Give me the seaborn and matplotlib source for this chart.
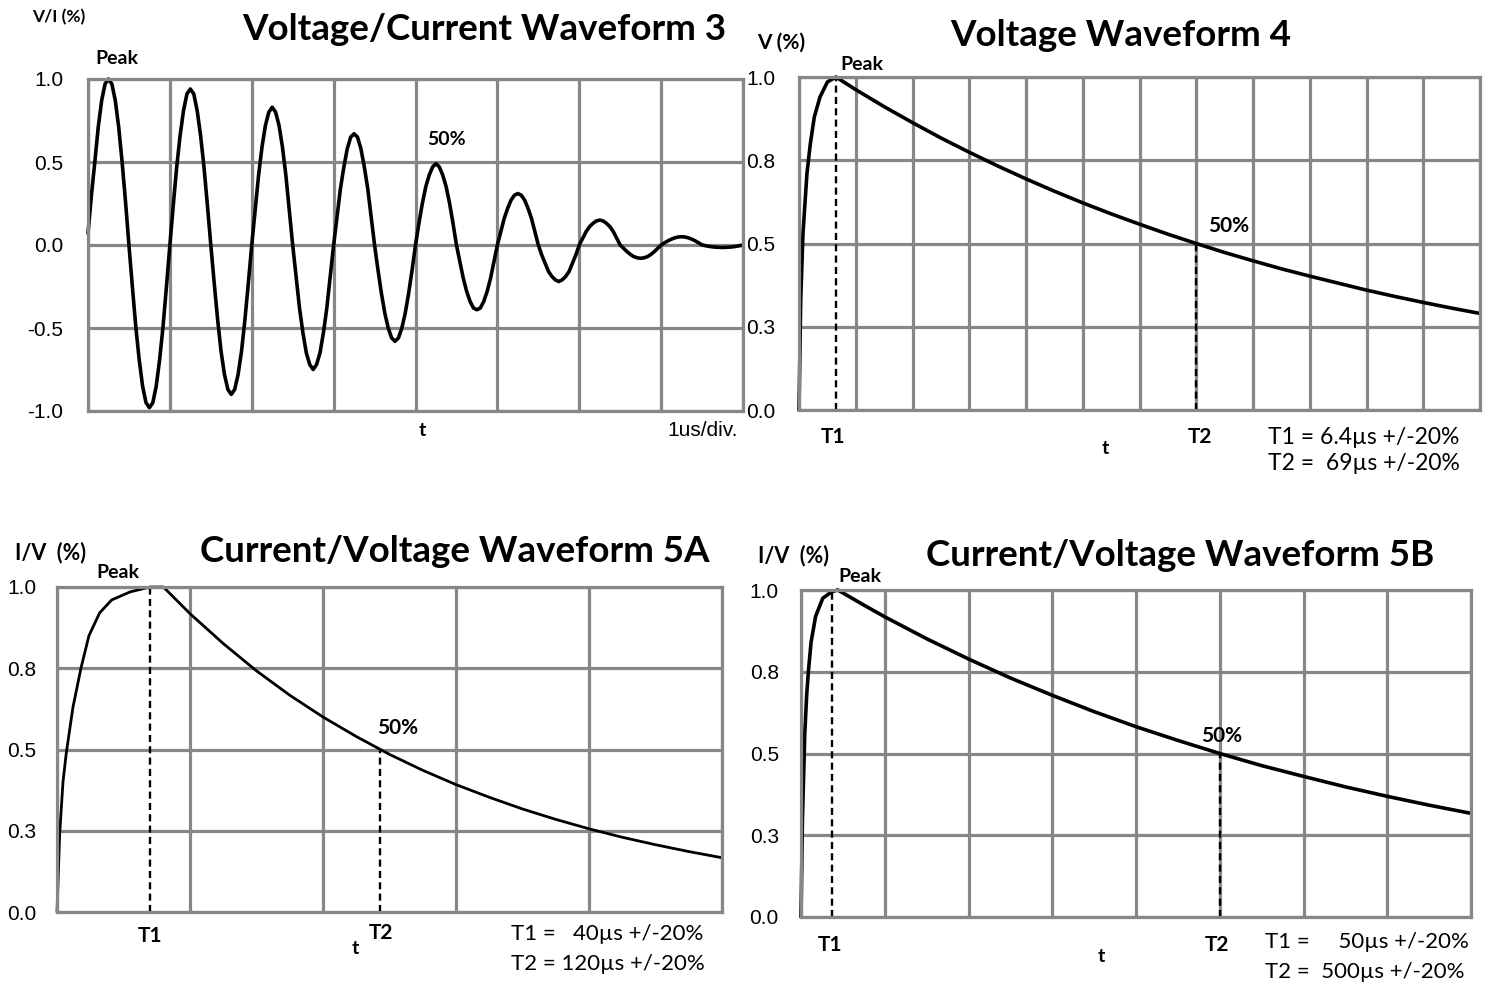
import numpy as np
import matplotlib.pyplot as plt
import seaborn as sns

W, H = 1488, 982
GRID = '#878787'

ring_per_div = 24
ring_v = [0.07, 0.30, 0.50, 0.71, 0.87, 0.97, 1.00, 0.97, 0.87, 0.71, 0.50, 0.26,
          0.00, -0.25, -0.49, -0.69, -0.85, -0.95, -0.98, -0.95, -0.85, -0.69, -0.49, -0.25,
          0.00, 0.24, 0.47, 0.66, 0.81, 0.91, 0.94, 0.91, 0.81, 0.66, 0.47, 0.24,
          0.00, -0.23, -0.45, -0.64, -0.78, -0.87, -0.90, -0.87, -0.78, -0.64, -0.45, -0.23,
          0.00, 0.21, 0.42, 0.59, 0.72, 0.80, 0.83, 0.80, 0.72, 0.59, 0.42, 0.21,
          0.00, -0.19, -0.38, -0.53, -0.65, -0.72, -0.75, -0.72, -0.65, -0.53, -0.38, -0.19,
          0.00, 0.17, 0.34, 0.47, 0.58, 0.65, 0.67, 0.65, 0.58, 0.47, 0.34, 0.17,
          0.00, -0.15, -0.29, -0.41, -0.50, -0.56, -0.58, -0.56, -0.50, -0.41, -0.29, -0.15,
          0.00, 0.13, 0.25, 0.35, 0.42, 0.47, 0.49, 0.47, 0.42, 0.35, 0.25, 0.13,
          0.00, -0.10, -0.20, -0.28, -0.34, -0.38, -0.39, -0.38, -0.34, -0.28, -0.20, -0.10,
          0.00, 0.08, 0.16, 0.22, 0.27, 0.30, 0.31, 0.30, 0.27, 0.22, 0.16, 0.08,
          0.00, -0.06, -0.11, -0.16, -0.19, -0.21, -0.22, -0.21, -0.19, -0.16, -0.11, -0.06,
          0.00, 0.04, 0.08, 0.11, 0.13, 0.145, 0.15, 0.145, 0.13, 0.11, 0.08, 0.04,
          0.00, -0.02, -0.04, -0.057, -0.07, -0.077, -0.08, -0.077, -0.07, -0.057, -0.04, -0.02,
          0.00, 0.013, 0.025, 0.035, 0.043, 0.048, 0.05, 0.048, 0.043, 0.035, 0.025, 0.013,
          0.00, -0.004, -0.008, -0.011, -0.013, -0.014, -0.015, -0.014, -0.013, -0.011, -0.008, -0.004,
          0.00]
ring_peak_t = 0.25
ring_50_t = 4.25

# ---- Waveform 4 (12 div) ----
wf4_t = [0, 0.03, 0.07, 0.14, 0.2, 0.27, 0.37, 0.5, 0.65,
         1.0, 1.5, 2.0, 2.5, 3.0, 3.5, 4.0, 4.5, 5.0, 5.5, 6.0, 6.5, 7.0,
         7.5, 8.0, 8.5, 9.0, 9.5, 10.0, 10.5, 11.0, 11.5, 12.0]
wf4_v = [0, 0.33, 0.53, 0.71, 0.80, 0.88, 0.94, 0.985, 1.0,
         0.962, 0.911, 0.863, 0.817, 0.774, 0.733, 0.694, 0.657, 0.622, 0.589,
         0.558, 0.528, 0.500, 0.473, 0.448, 0.424, 0.402, 0.381, 0.360, 0.341,
         0.323, 0.306, 0.290]
wf4_T1, wf4_T2 = 0.65, 7.0

# ---- Waveform 5A (5 div) ----
wf5a_t = [0, 0.02, 0.045, 0.07, 0.12, 0.18, 0.24, 0.32, 0.41, 0.55, 0.7, 0.8,
          1.0, 1.25, 1.5, 1.75, 2.0, 2.25, 2.5, 2.75, 3.0, 3.25, 3.5, 3.75,
          4.0, 4.25, 4.5, 4.75, 5.0]
wf5a_v = [0, 0.24, 0.40, 0.49, 0.63, 0.75, 0.85, 0.92, 0.96, 0.985, 1.0, 1.0,
          0.918, 0.826, 0.742, 0.667, 0.600, 0.540, 0.485, 0.436, 0.392, 0.353,
          0.317, 0.285, 0.256, 0.230, 0.207, 0.186, 0.167]
wf5a_T1, wf5a_T2 = 0.70, 2.43

# ---- Waveform 5B (8 div) ----
wf5b_t = [0, 0.017, 0.045, 0.068, 0.088, 0.12, 0.175, 0.26, 0.37, 0.44,
          0.75, 1.0, 1.5, 2.0, 2.5, 3.0, 3.5, 4.0, 4.5, 5.0, 5.5, 6.0, 6.5,
          7.0, 7.5, 8.0]
wf5b_v = [0, 0.30, 0.56, 0.68, 0.75, 0.84, 0.92, 0.975, 0.995, 1.0,
          0.954, 0.918, 0.851, 0.789, 0.731, 0.678, 0.628, 0.582, 0.540, 0.500,
          0.463, 0.430, 0.398, 0.369, 0.342, 0.317]
wf5b_T1, wf5b_T2 = 0.37, 5.0

unit_ticks = [0, 0.25, 0.5, 0.75, 1.0]
unit_labels = ['0.0', '0.3', '0.5', '0.8', '1.0']
ring_ticks = [-1.0, -0.5, 0.0, 0.5, 1.0]
ring_labels = ['-1.0', '-0.5', '0.0', '0.5', '1.0']

sns.set_theme(style='white')
plt.rcParams['font.family'] = ['Lato', 'DejaVu Sans']
plt.rcParams['text.color'] = 'black'
plt.rcParams['ytick.color'] = 'black'
plt.rcParams['xtick.color'] = 'black'

TICKFONT = ['Liberation Sans', 'DejaVu Sans']
BOLD = dict(family=['Lato', 'DejaVu Sans'], fontweight='bold')


def rect(l, r, t, b):
    return [l / W, 1 - b / H, (r - l) / W, (b - t) / H]


def ftext(fig, x, y, s, **kw):
    kw.setdefault('ha', 'center')
    kw.setdefault('va', 'center')
    fig.text(x / W, 1 - y / H, s, **kw)


def setup(ax, ndiv, ylim, ticks, labels, pad):
    ax.set_xlim(0, ndiv)
    ax.set_ylim(*ylim)
    ax.set_xticks(range(ndiv + 1))
    ax.set_xticklabels([])
    ax.set_yticks(ticks)
    ax.set_yticklabels(labels, family=TICKFONT, fontsize=15, color='black')
    ax.tick_params(length=0, pad=pad)
    ax.grid(True, color=GRID, lw=2.3)
    ax.set_axisbelow(True)
    for s in ax.spines.values():
        s.set_color(GRID)
        s.set_linewidth(2.3)
    ax.set_xlabel('')
    ax.set_ylabel('')


def note(ax, s, xy, dx, dy, size=14, coords='data'):
    ax.annotate(s, xy=xy, xycoords=coords, xytext=(dx * 0.72, -dy * 0.72),
                textcoords='offset points', ha='center', va='center',
                fontsize=size, color='black', **BOLD)


fig = plt.figure(figsize=(W / 100, H / 100), dpi=100)

# ---------------- waveform 3 ----------------
ax1 = fig.add_axes(rect(88, 743, 79, 411))
ring_t = np.arange(len(ring_v)) / ring_per_div
sns.lineplot(x=ring_t, y=ring_v, ax=ax1, color='black', linewidth=2.6,
             estimator=None, sort=False, clip_on=False)
setup(ax1, 8, (-1, 1), ring_ticks, ring_labels, 18)
note(ax1, 'Peak', (ring_peak_t, 1.0), 8, -20)
note(ax1, '50%', (ring_50_t, 0.49), 11, -24)
ftext(fig, 484, 29, 'Voltage/Current Waveform 3', fontsize=26.5, **BOLD)
ftext(fig, 59, 17, 'V/I (%)', fontsize=12.5, **BOLD)
ftext(fig, 422, 431, 't', fontsize=14, **BOLD)
ftext(fig, 738, 431, '1us/div.', ha='right', fontsize=15, family=TICKFONT)

# ---------------- waveforms 4, 5A, 5B ----------------
panels = [
    (rect(799, 1480, 77, 410), 12, wf4_t, wf4_v, wf4_T1, wf4_T2, 2.6, 17),
    (rect(57, 722, 587, 912), 5, wf5a_t, wf5a_v, wf5a_T1, wf5a_T2, 2.0, 15),
    (rect(801, 1471, 590, 917), 8, wf5b_t, wf5b_v, wf5b_T1, wf5b_T2, 2.6, 16),
]
axes = []
for pos, ndiv, t, v, T1, T2, lw, pad in panels:
    ax = fig.add_axes(pos)
    sns.lineplot(x=t, y=v, ax=ax, color='black', linewidth=lw,
                 estimator=None, sort=False, clip_on=False)
    setup(ax, ndiv, (0, 1), unit_ticks, unit_labels, pad)
    ax.vlines([T1, T2], 0, [1.0, 0.5], colors='black', lw=1.7,
              linestyles=(0, (3, 1.8)))
    axes.append(ax)

ax2, ax3, ax4 = axes
below = ('data', 'axes fraction')

note(ax2, 'Peak', (wf4_T1, 1.0), 26, -13)
note(ax2, '50%', (wf4_T2, 0.5), 32, -18, size=15)
note(ax2, 'T1', (wf4_T1, 0), -3, 27, size=15, coords=below)
note(ax2, 'T2', (wf4_T2, 0), 4, 27, size=15, coords=below)
ftext(fig, 1121, 35, 'Voltage Waveform 4', fontsize=26.5, **BOLD)
ftext(fig, 781, 43, 'V (%)', fontsize=15, **BOLD)
ftext(fig, 1105, 448, 't', fontsize=14, **BOLD)
ftext(fig, 1268, 437, 'T1 = 6.4µs +/-20%', ha='left', fontsize=16.5)
ftext(fig, 1268, 464, 'T2 =  69µs +/-20%', ha='left', fontsize=16.5)

note(ax3, 'Peak', (wf5a_T1, 1.0), -32, -14)
note(ax3, '50%', (wf5a_T2, 0.5), 17, -21, size=15)
note(ax3, 'T1', (wf5a_T1, 0), 0, 24, size=15, coords=below)
note(ax3, 'T2', (wf5a_T2, 0), 1, 21, size=15, coords=below)
ftext(fig, 455, 552, 'Current/Voltage Waveform 5A', fontsize=26.5, **BOLD)
ftext(fig, 51, 553, 'I/V  (%)', fontsize=15.5, **BOLD)
ftext(fig, 355, 948, 't', fontsize=14, **BOLD)
ftext(fig, 511, 934, 'T1 =   40µs +/-20%', ha='left', fontsize=16)
ftext(fig, 511, 964, 'T2 = 120µs +/-20%', ha='left', fontsize=16)

note(ax4, 'Peak', (wf5b_T1, 1.0), 28, -13)
note(ax4, '50%', (wf5b_T2, 0.5), 2, -18, size=15)
note(ax4, 'T1', (wf5b_T1, 0), -2, 28, size=15, coords=below)
note(ax4, 'T2', (wf5b_T2, 0), -3, 28, size=15, coords=below)
ftext(fig, 1180, 555, 'Current/Voltage Waveform 5B', fontsize=26.5, **BOLD)
ftext(fig, 793, 556, 'I/V  (%)', fontsize=15.5, **BOLD)
ftext(fig, 1101, 957, 't', fontsize=14, **BOLD)
ftext(fig, 1265, 942, 'T1 =     50µs +/-20%', ha='left', fontsize=16)
ftext(fig, 1265, 972, 'T2 =  500µs +/-20%', ha='left', fontsize=16)

fig.savefig('out.png', dpi=100)
